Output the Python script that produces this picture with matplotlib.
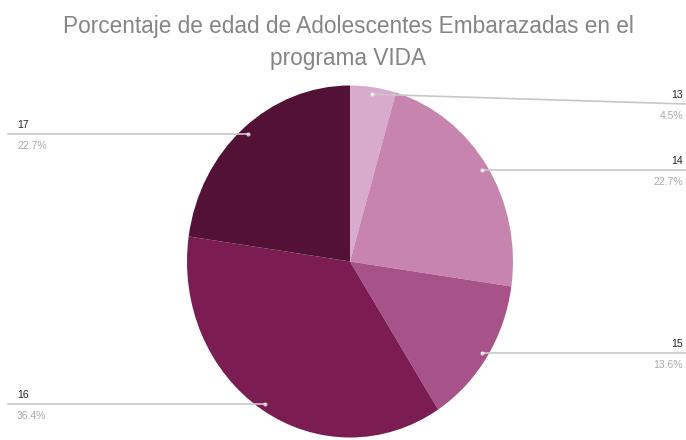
import numpy as np
import matplotlib.pyplot as plt

plt.rcParams['font.family'] = ['Liberation Sans', 'DejaVu Sans']

edades = ['13', '14', '15', '16', '17']
cantidades = [1, 5, 3, 8, 5]
colores = ['#d8aacb', '#c684ae', '#a8528a', '#7b1d52', '#541136']

W, H = 686, 440
cx, cy = 350, 261.5      # centro del pie en pixeles
rx, ry = 163, 176        # el pie sale un poco ovalado

fig = plt.figure(figsize=(W / 100, H / 100), dpi=100)
ax = fig.add_axes([0, 0, 1, 1])
wedges, _ = ax.pie(cantidades, colors=colores, startangle=90, counterclock=False,
                   radius=1, center=(0, 0))
ax.set_aspect('auto')
ax.set_xlim(-cx / rx, (W - cx) / rx)
ax.set_ylim(-(H - cy) / ry, cy / ry)
ax.axis('off')


def px(x, y):
    # pixeles -> datos
    return (x - cx) / rx, (cy - y) / ry


total = sum(cantidades)
pct = [100 * c / total for c in cantidades]
# lado y altura de la linea de cada etiqueta (None = misma altura que el punto)
lado = ['r', 'r', 'r', 'l', 'l']
y_etiqueta = [104, None, None, None, None]

for w, ed, p, s, ye in zip(wedges, edades, pct, lado, y_etiqueta):
    ang = np.deg2rad((w.theta1 + w.theta2) / 2)
    ax_, ay_ = 0.96 * np.cos(ang), 0.96 * np.sin(ang)
    if ye is None:
        ly = ay_
    else:
        ly = px(0, ye)[1]
    if s == 'r':
        xe = px(W, 0)[0]
        xt = px(W - 3, 0)[0]
        ha = 'right'
    else:
        xe = px(8, 0)[0]
        xt = px(17, 0)[0]
        ha = 'left'
    ax.plot([ax_, xe], [ay_, ly], color='#c8c8c8', lw=1.2, zorder=3)
    ax.plot(ax_, ay_, 'o', ms=3, color='white', alpha=0.7, mec='none', zorder=4)
    ax.text(xt, ly + 9 / ry, ed, ha=ha, va='center', fontsize=7.5, color='#222222')
    ax.text(xt, ly - 12 / ry, f'{p:.1f}%', ha=ha, va='center', fontsize=7.5, color='#aaaaaa')

fig.text(0.508, 1 - 42 / H, 'Porcentaje de edad de Adolescentes Embarazadas en el\nprograma VIDA',
         ha='center', va='center', fontsize=16.3, color='#858585', linespacing=1.5)

fig.savefig('out.png', dpi=100)
